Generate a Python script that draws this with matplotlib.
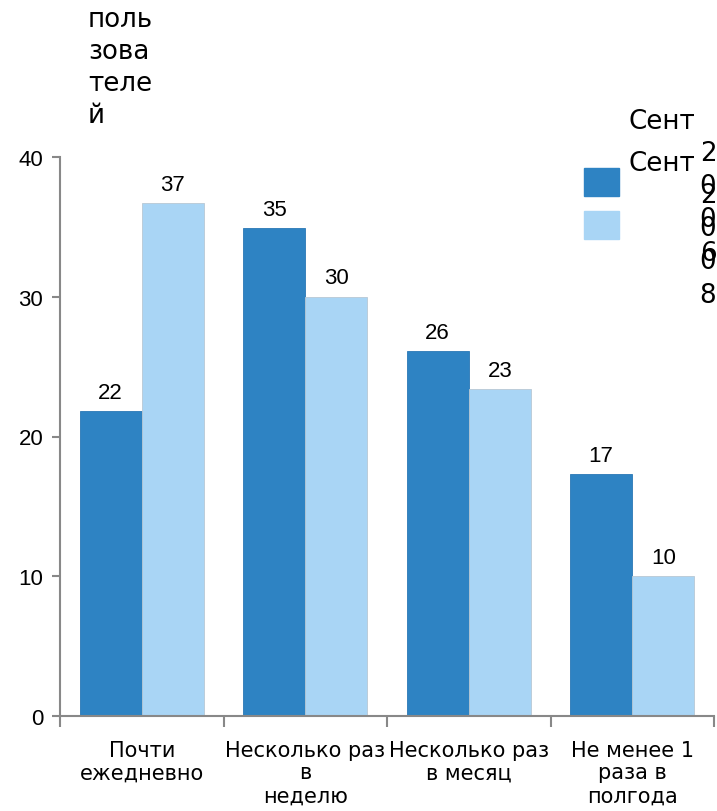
import matplotlib.pyplot as plt
from matplotlib.patches import Rectangle
import numpy as np

categories = ["Почти\nежедневно", "Несколько раз\nв\nнеделю",
              "Несколько раз\nв месяц", "Не менее 1\nраза в\nполгода"]
sep_2006 = [21.8, 34.9, 26.1, 17.3]
sep_2008 = [36.7, 30.0, 23.4, 10.0]
series_names = ["Сент 2006", "Сент 2008"]
y_ticks = [0, 10, 20, 30, 40]

dark = '#2e83c3'
light = '#a9d5f5'
W, H = 717, 812

fig = plt.figure(figsize=(W / 100, H / 100), dpi=100)
ax = fig.add_axes([60 / W, 1 - 717 / H, (714 - 60) / W, (717 - 158) / H])

x = np.arange(len(categories))
bw = 0.38
b1 = ax.bar(x - bw / 2, sep_2006, bw, color=dark, edgecolor='#2a78b5', linewidth=0.6)
b2 = ax.bar(x + bw / 2, sep_2008, bw, color=light, edgecolor='#b8c8d4', linewidth=0.6)

for bars in (b1, b2):
    for r in bars:
        ax.text(r.get_x() + r.get_width() / 2, r.get_height() + 0.6,
                str(int(round(r.get_height()))), ha='center', va='bottom',
                fontsize=16, family='Liberation Sans')

ax.set_xlim(-0.5, len(categories) - 0.5)
ax.set_ylim(0, 40)
ax.set_yticks(y_ticks)
ax.set_yticklabels([str(t) for t in y_ticks], fontsize=16, family='Liberation Sans')
ax.set_xticks(x)
ax.set_xticklabels(categories, fontsize=15, family='DejaVu Sans', linespacing=1.18)
ax.set_xticks(np.arange(len(categories) + 1) - 0.5, minor=True)
ax.tick_params(axis='x', which='major', length=0, pad=17)
ax.tick_params(axis='x', which='minor', length=8, color='#888888', width=1.5)
ax.tick_params(axis='y', length=6, color='#888888', width=1.5, pad=6)
for s in ('top', 'right'):
    ax.spines[s].set_visible(False)
for s in ('left', 'bottom'):
    ax.spines[s].set_color('#888888')
    ax.spines[s].set_linewidth(1.5)

# y-axis caption, wrapped like in the source
fig.text(88 / W, 1 - 7 / H, "поль\nзова\nтеле\nй", ha='left', va='top',
         fontsize=18.8, family='DejaVu Sans', linespacing=1.3)

# legend drawn by hand
for i, (name, col) in enumerate(zip(series_names, [dark, light])):
    top = 169 + i * 43
    fig.add_artist(Rectangle((584 / W, 1 - (top + 28) / H), 35 / W, 28 / H,
                             transform=fig.transFigure, color=col))
    word, year = name.split()
    fig.text(628 / W, 1 - (122 + i * 42) / H, word, ha='left', va='center',
             fontsize=18.8, family='DejaVu Sans')
    fig.text(708 / W, 1 - (141 + i * 42) / H, "\n".join(year), ha='center', va='top',
             fontsize=18.8, family='DejaVu Sans', linespacing=1.36)

fig.savefig('out.png', dpi=100)
